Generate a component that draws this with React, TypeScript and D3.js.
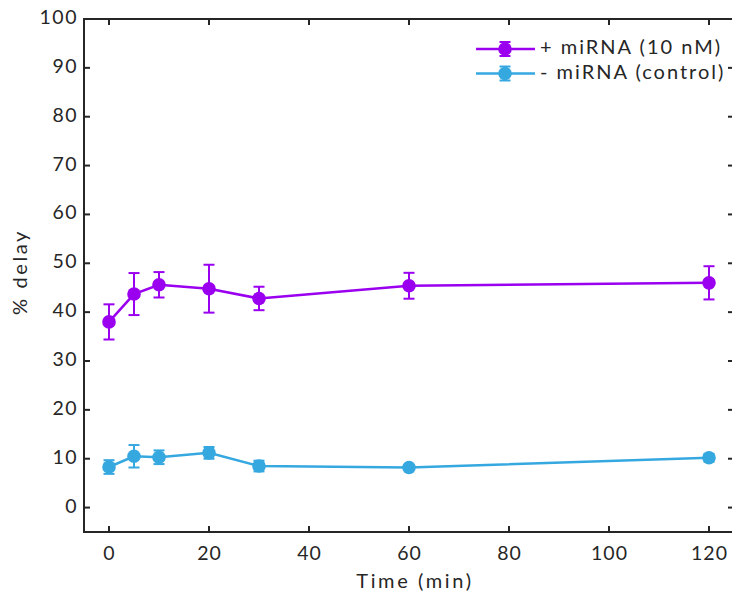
import React from "react";
import * as d3 from "d3";

const times = [0, 5, 10, 20, 30, 60, 120];
const miRNAMean = [38.0, 43.7, 45.6, 44.8, 42.8, 45.4, 46.0];
const miRNAErr = [3.6, 4.3, 2.6, 4.9, 2.4, 2.65, 3.4];
const controlMean = [8.3, 10.5, 10.3, 11.2, 8.5, 8.2, 10.2];
const controlErr = [1.4, 2.3, 1.4, 1.2, 1.1, 0.5, 0.8];
const xTicks = [0, 20, 40, 60, 80, 100, 120];
const yTicks = [0, 10, 20, 30, 40, 50, 60, 70, 80, 90, 100];
const seriesNames = ["+ miRNA (10 nM)", "- miRNA (control)"];
const seriesColors = ["#9a00ef", "#36a8e0"];

const W = 732;
const H = 597;
const FONT = "Lato, 'Open Sans', sans-serif";
const AX = "#262626";

export default function App() {
  const x = d3.scaleLinear().domain([-5, 125]).range([84, 734]);
  const y = d3.scaleLinear().domain([-5, 100]).range([532, 19]);
  const line = d3
    .line<number>()
    .x((_, i) => x(times[i]))
    .y((d) => y(d));

  const series = [
    { mean: miRNAMean, err: miRNAErr, color: seriesColors[0], name: seriesNames[0] },
    { mean: controlMean, err: controlErr, color: seriesColors[1], name: seriesNames[1] },
  ];

  const left = x.range()[0];
  const right = x.range()[1];
  const top = y.range()[1];
  const bottom = y.range()[0];
  const tl = 6;

  return (
    <svg
      width={W}
      height={H}
      style={{ position: "absolute", left: 0, top: 0, background: "#fff" }}
      fontFamily={FONT}
    >
      <rect x={0} y={0} width={W} height={H} fill="#fff" />
      {series.map((s, si) => (
        <g key={si}>
          <path d={line(s.mean) || ""} fill="none" stroke={s.color} strokeWidth={2.5} />
          {s.mean.map((m, i) => {
            const cx = x(times[i]);
            const y1 = y(m + s.err[i]);
            const y2 = y(m - s.err[i]);
            return (
              <g key={i}>
                <line x1={cx} x2={cx} y1={y1} y2={y2} stroke={s.color} strokeWidth={2} />
                <line x1={cx - 5.5} x2={cx + 5.5} y1={y1} y2={y1} stroke={s.color} strokeWidth={2} />
                <line x1={cx - 5.5} x2={cx + 5.5} y1={y2} y2={y2} stroke={s.color} strokeWidth={2} />
                <circle cx={cx} cy={y(m)} r={6.8} fill={s.color} />
              </g>
            );
          })}
        </g>
      ))}

      <line x1={left} x2={right} y1={top} y2={top} stroke={AX} strokeWidth={2} />
      <line x1={left} x2={right} y1={bottom} y2={bottom} stroke={AX} strokeWidth={2} />
      <line x1={left} x2={left} y1={top - 1} y2={bottom + 1} stroke={AX} strokeWidth={2} />
      <line x1={right} x2={right} y1={top - 1} y2={bottom + 1} stroke={AX} strokeWidth={2} />

      {xTicks.map((t) => (
        <g key={"xt" + t}>
          <line x1={x(t)} x2={x(t)} y1={bottom} y2={bottom - tl} stroke={AX} strokeWidth={2} />
          <line x1={x(t)} x2={x(t)} y1={top} y2={top + tl} stroke={AX} strokeWidth={2} />
          <text
            x={x(t) + 0.5}
            y={bottom + 23}
            textAnchor="middle"
            dominantBaseline="middle"
            fontSize={19.5}
            letterSpacing={1}
            fill={AX}
          >
            {t}
          </text>
        </g>
      ))}
      {yTicks.map((t) => (
        <g key={"yt" + t}>
          <line x1={left} x2={left + tl} y1={y(t)} y2={y(t)} stroke={AX} strokeWidth={2} />
          <line x1={right} x2={right - tl} y1={y(t)} y2={y(t)} stroke={AX} strokeWidth={2} />
          <text
            x={left - 6}
            y={y(t)}
            textAnchor="end"
            dominantBaseline="middle"
            fontSize={19.5}
            letterSpacing={1.5}
            fill={AX}
          >
            {t}
          </text>
        </g>
      ))}

      <text
        x={415}
        y={583}
        textAnchor="middle"
        dominantBaseline="middle"
        fontSize={20}
        letterSpacing={2.6}
        fill={AX}
      >
        Time (min)
      </text>
      <text
        transform={`translate(22,272) rotate(-90)`}
        textAnchor="middle"
        dominantBaseline="middle"
        fontSize={20}
        letterSpacing={2.6}
        fill={AX}
      >
        % delay
      </text>

      {series.map((s, i) => {
        const ly = 49 + i * 24.5;
        const lx = 476;
        const mx = 505;
        return (
          <g key={"lg" + i}>
            <line x1={lx} x2={535} y1={ly} y2={ly} stroke={s.color} strokeWidth={2.5} />
            <line x1={mx} x2={mx} y1={ly - 7} y2={ly + 7} stroke={s.color} strokeWidth={2} />
            <line x1={mx - 5.5} x2={mx + 5.5} y1={ly - 7} y2={ly - 7} stroke={s.color} strokeWidth={2} />
            <line x1={mx - 5.5} x2={mx + 5.5} y1={ly + 7} y2={ly + 7} stroke={s.color} strokeWidth={2} />
            <circle cx={mx} cy={ly} r={6.8} fill={s.color} />
            <text
              x={540}
              y={ly}
              dominantBaseline="middle"
              fontSize={20}
              letterSpacing={2}
              fill={AX}
            >
              {s.name}
            </text>
          </g>
        );
      })}
    </svg>
  );
}
